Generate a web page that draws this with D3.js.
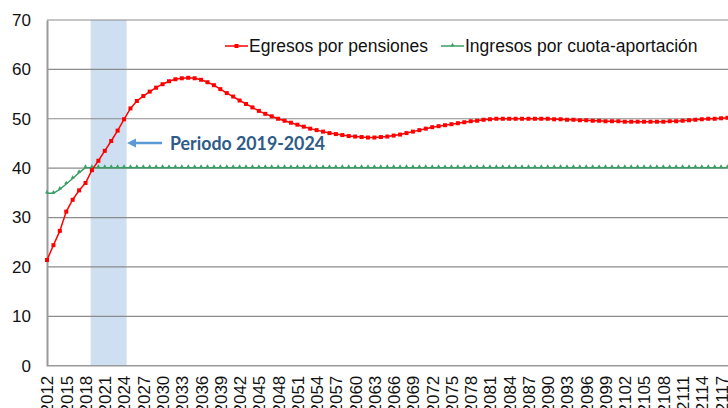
<!DOCTYPE html>
<html>
<head>
<meta charset="utf-8">
<script src="https://cdn.jsdelivr.net/npm/d3@7"></script>
<style>
  body { margin: 0; background: #fff; }
  svg { display: block; font-family: "Liberation Sans", Arial, sans-serif; }
</style>
</head>
<body>
<svg width="728" height="408"></svg>
<script>
// data
var years = d3.range(2012, 2119);
var egresos = [
  21.4, 24.4, 27.3, 31.2, 33.6, 35.5, 37.0, 39.6, 41.5, 43.5,
  45.5, 47.6, 49.9, 52.1, 53.6, 54.6, 55.5, 56.3, 57.0, 57.6,
  58.0, 58.2, 58.3, 58.2, 57.9, 57.4, 56.8, 56.0, 55.2, 54.5,
  53.7, 53.0, 52.3, 51.6, 51.0, 50.5, 50.0, 49.6, 49.2, 48.8,
  48.4, 48.0, 47.7, 47.4, 47.1, 46.9, 46.7, 46.5, 46.4, 46.3,
  46.2, 46.2, 46.3, 46.4, 46.6, 46.8, 47.1, 47.4, 47.7, 48.0,
  48.3, 48.5, 48.7, 48.9, 49.1, 49.3, 49.5, 49.6, 49.8, 49.9,
  50.0, 50.0, 50.0, 50.0, 50.0, 50.0, 50.0, 50.0, 50.0, 49.9,
  49.9, 49.8, 49.8, 49.7, 49.7, 49.6, 49.6, 49.5, 49.5, 49.5,
  49.4, 49.4, 49.4, 49.4, 49.4, 49.4, 49.4, 49.5, 49.5, 49.6,
  49.7, 49.8, 49.9, 50.0, 50.0, 50.1, 50.2
];
var ingresos = [
  34.9, 34.9, 35.7, 36.8, 37.9, 39.1, 40.1, 40.1, 40.1, 40.1,
  40.1, 40.1, 40.1, 40.1, 40.1, 40.1, 40.1, 40.1, 40.1, 40.1,
  40.1, 40.1, 40.1, 40.1, 40.1, 40.1, 40.1, 40.1, 40.1, 40.1,
  40.1, 40.1, 40.1, 40.1, 40.1, 40.1, 40.1, 40.1, 40.1, 40.1,
  40.1, 40.1, 40.1, 40.1, 40.1, 40.1, 40.1, 40.1, 40.1, 40.1,
  40.1, 40.1, 40.1, 40.1, 40.1, 40.1, 40.1, 40.1, 40.1, 40.1,
  40.1, 40.1, 40.1, 40.1, 40.1, 40.1, 40.1, 40.1, 40.1, 40.1,
  40.1, 40.1, 40.1, 40.1, 40.1, 40.1, 40.1, 40.1, 40.1, 40.1,
  40.1, 40.1, 40.1, 40.1, 40.1, 40.1, 40.1, 40.1, 40.1, 40.1,
  40.1, 40.1, 40.1, 40.1, 40.1, 40.1, 40.1, 40.1, 40.1, 40.1,
  40.1, 40.1, 40.1, 40.1, 40.1, 40.1, 40.1
];
var tickYears = years.filter(function(y) { return (y - 2012) % 3 === 0; });
var yTicks = [0, 10, 20, 30, 40, 50, 60, 70];
var band = [2018.8, 2024.4];
var seriesNames = ["Egresos por pensiones", "Ingresos por cuota-aportación"];
var annotation = "Periodo 2019-2024";

var svg = d3.select("svg");
var plotLeft = 47, plotRight = 728, plotTop = 20, plotBottom = 365.7;

var x = d3.scaleLinear().domain([2012, 2118]).range([plotLeft, 727.5]);
var y = d3.scaleLinear().domain([0, 70]).range([plotBottom, plotTop]);

// shaded period
svg.append("rect")
  .attr("x", x(band[0]))
  .attr("y", y(70))
  .attr("width", x(band[1]) - x(band[0]))
  .attr("height", y(0) - y(70))
  .attr("fill", "#cddff0");

// gridlines
svg.selectAll(".grid")
  .data(yTicks.filter(function(d) { return d > 0; }))
  .enter().append("line")
  .attr("class", "grid")
  .attr("x1", plotLeft).attr("x2", plotRight)
  .attr("y1", function(d) { return y(d); })
  .attr("y2", function(d) { return y(d); })
  .attr("stroke", "#8c8c8c")
  .attr("stroke-width", 1.2);

// y axis
var yAxis = svg.append("g")
  .attr("transform", "translate(" + plotLeft + ",0)")
  .call(d3.axisLeft(y).tickValues(yTicks).tickSize(0).tickPadding(16));
yAxis.select(".domain").attr("stroke", "#9a9a9a").attr("stroke-width", 2);
yAxis.selectAll("text").style("font-size", "17px").attr("fill", "#111");

// x axis
var xAxis = svg.append("g")
  .attr("transform", "translate(0," + plotBottom + ")")
  .call(d3.axisBottom(x).tickValues(tickYears).tickFormat(d3.format("d")).tickSize(0));
xAxis.select(".domain").attr("stroke", "#9a9a9a").attr("stroke-width", 1.5)
  .attr("d", "M" + plotLeft + ",0H" + plotRight);
xAxis.selectAll("text")
  .style("font-size", "17px")
  .attr("fill", "#111")
  .attr("text-anchor", "end")
  .attr("transform", "rotate(-90)")
  .attr("x", -10)
  .attr("y", 0)
  .attr("dy", "0.35em");

// lines
var line = d3.line()
  .x(function(d, i) { return x(years[i]); })
  .y(function(d) { return y(d); });

svg.append("path")
  .datum(ingresos)
  .attr("d", line)
  .attr("fill", "none")
  .attr("stroke", "#3a9e64")
  .attr("stroke-width", 1.5);

svg.selectAll(".gm")
  .data(ingresos)
  .enter().append("path")
  .attr("class", "gm")
  .attr("transform", function(d, i) { return "translate(" + x(years[i]) + "," + (y(d) - 1) + ")"; })
  .attr("d", d3.symbol().type(d3.symbolTriangle).size(7))
  .attr("fill", "#3a9e64");

svg.append("path")
  .datum(egresos)
  .attr("d", line)
  .attr("fill", "none")
  .attr("stroke", "#ff0000")
  .attr("stroke-width", 1.5);

svg.selectAll(".rm")
  .data(egresos)
  .enter().append("rect")
  .attr("class", "rm")
  .attr("x", function(d, i) { return x(years[i]) - 2; })
  .attr("y", function(d) { return y(d) - 2; })
  .attr("width", 4).attr("height", 4)
  .attr("fill", "#ff0000");

// annotation arrow + text
var ay = 143;
svg.append("line")
  .attr("x1", 162).attr("x2", 134)
  .attr("y1", ay).attr("y2", ay)
  .attr("stroke", "#5b9bd5").attr("stroke-width", 2.5);
svg.append("path")
  .attr("d", "M127," + ay + "L136," + (ay - 4.5) + "L136," + (ay + 4.5) + "Z")
  .attr("fill", "#5b9bd5");
svg.append("text")
  .attr("x", 170).attr("y", 150)
  .attr("font-family", "Lato, 'Open Sans', sans-serif")
  .attr("font-weight", "bold")
  .attr("font-size", 19)
  .attr("fill", "#2e5b88")
  .attr("textLength", 155)
  .attr("lengthAdjust", "spacingAndGlyphs")
  .text(annotation);

// legend
var legend = [
  { name: seriesNames[0], color: "#ff0000", x: 225, marker: "square" },
  { name: seriesNames[1], color: "#3a9e64", x: 441, marker: "tri" }
];
var lg = svg.selectAll(".lg").data(legend).enter().append("g")
  .attr("class", "lg")
  .attr("transform", function(d) { return "translate(" + d.x + ",46)"; });
lg.append("line").attr("x1", 0).attr("x2", 23).attr("y1", 0).attr("y2", 0)
  .attr("stroke", function(d) { return d.color; }).attr("stroke-width", 1.5);
lg.filter(function(d) { return d.marker === "square"; }).append("rect")
  .attr("x", 9.5).attr("y", -2).attr("width", 4).attr("height", 4)
  .attr("fill", function(d) { return d.color; });
lg.filter(function(d) { return d.marker === "tri"; }).append("path")
  .attr("transform", "translate(11.5,-1)")
  .attr("d", d3.symbol().type(d3.symbolTriangle).size(7))
  .attr("fill", function(d) { return d.color; });
lg.append("text")
  .attr("x", 24).attr("y", 6)
  .style("font-size", "17.5px")
  .attr("fill", "#111")
  .text(function(d) { return d.name; });
</script>
</body>
</html>
